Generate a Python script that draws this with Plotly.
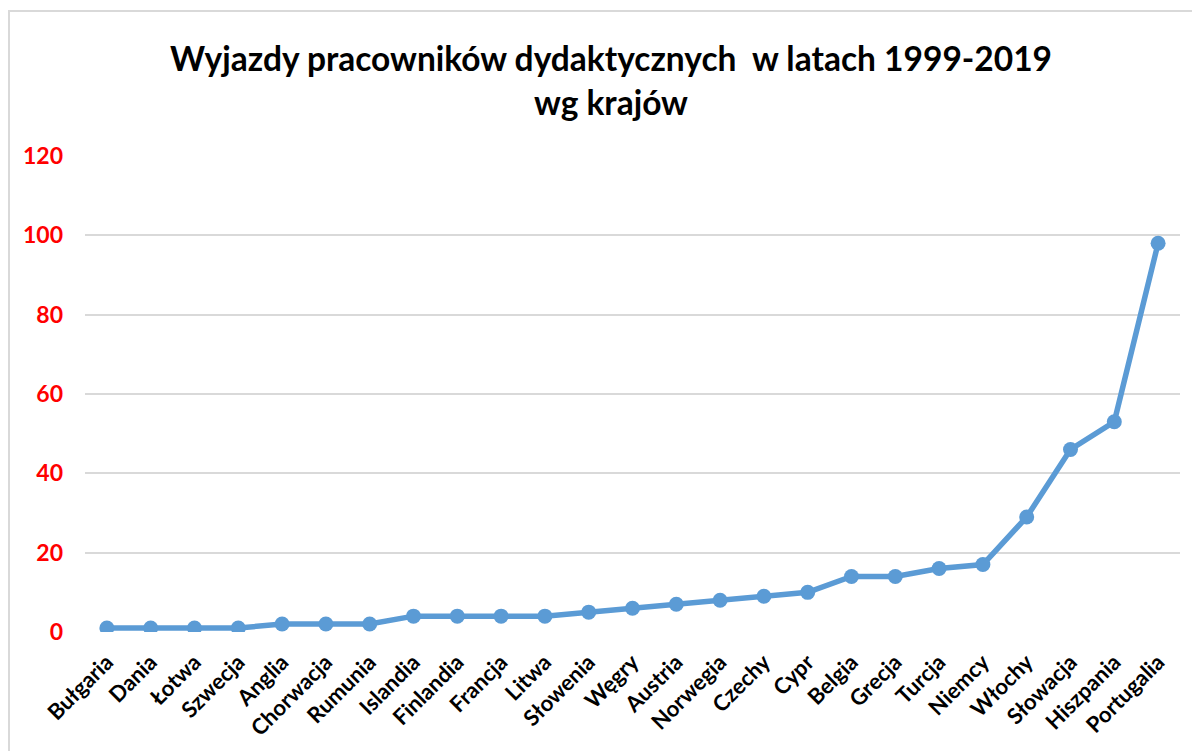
import plotly.graph_objects as go

countries = ["Bułgaria", "Dania", "Łotwa", "Szwecja", "Anglia", "Chorwacja", "Rumunia",
             "Islandia", "Finlandia", "Francja", "Litwa", "Słowenia", "Węgry", "Austria",
             "Norwegia", "Czechy", "Cypr", "Belgia", "Grecja", "Turcja", "Niemcy",
             "Włochy", "Słowacja", "Hiszpania", "Portugalia"]
values = [1, 1, 1, 1, 2, 2, 2, 4, 4, 4, 4, 5, 6, 7, 8, 9, 10, 14, 14, 16, 17, 29, 46, 53, 98]
y_ticks = [0, 20, 40, 60, 80, 100, 120]

FONT = "Lato"
OFF = 8  # page body margin

fig = go.Figure()
fig.add_trace(go.Scatter(
    x=countries, y=values, mode="lines+markers",
    line=dict(color="#5b9bd5", width=5.5),
    marker=dict(color="#5b9bd5", size=15),
    showlegend=False,
))

W, H = 1200, 751
L = 85 - OFF
T = 156 - OFF
pw = 1095
ph = 476
R = W - L - pw
B = H - T - ph

fig.update_layout(
    width=W, height=H,
    margin=dict(l=L, r=R, t=T, b=B, autoexpand=False),
    paper_bgcolor="white", plot_bgcolor="white",
    font=dict(family=FONT),
    title=dict(text="<b>Wyjazdy pracowników dydaktycznych  w latach 1999-2019<br>wg krajów</b>",
               x=(611 - OFF) / W, xanchor="center", y=1 - 63 / H, yanchor="middle",
               font=dict(family=FONT, size=33.5, color="black")),
    xaxis=dict(range=[-0.5, len(countries) - 0.5], tickangle=-45,
               tickfont=dict(family=FONT, size=22, color="black", weight="bold"),
               showgrid=False, showline=False, ticks="", zeroline=False, automargin=False,
               ticklabelstandoff=12),
    yaxis=dict(range=[0, 120], tickvals=y_ticks, tickfont=dict(family=FONT, size=23, color="red", weight="bold"),
               showgrid=True, gridcolor="#d9d9d9", gridwidth=1.5, zeroline=False, showline=False,
               ticks="", ticklabelstandoff=21, automargin=False),
)

# chart border
x0 = (9 - OFF - L) / pw
x1 = (1210 - L) / pw
y1 = (T + ph - (11 - OFF)) / ph
y0 = (T + ph - 770) / ph
fig.add_shape(type="rect", xref="paper", yref="paper", x0=x0, x1=x1, y0=y0, y1=y1,
              line=dict(color="#d9d9d9", width=2), layer="below")

fig.write_html("out.html")
